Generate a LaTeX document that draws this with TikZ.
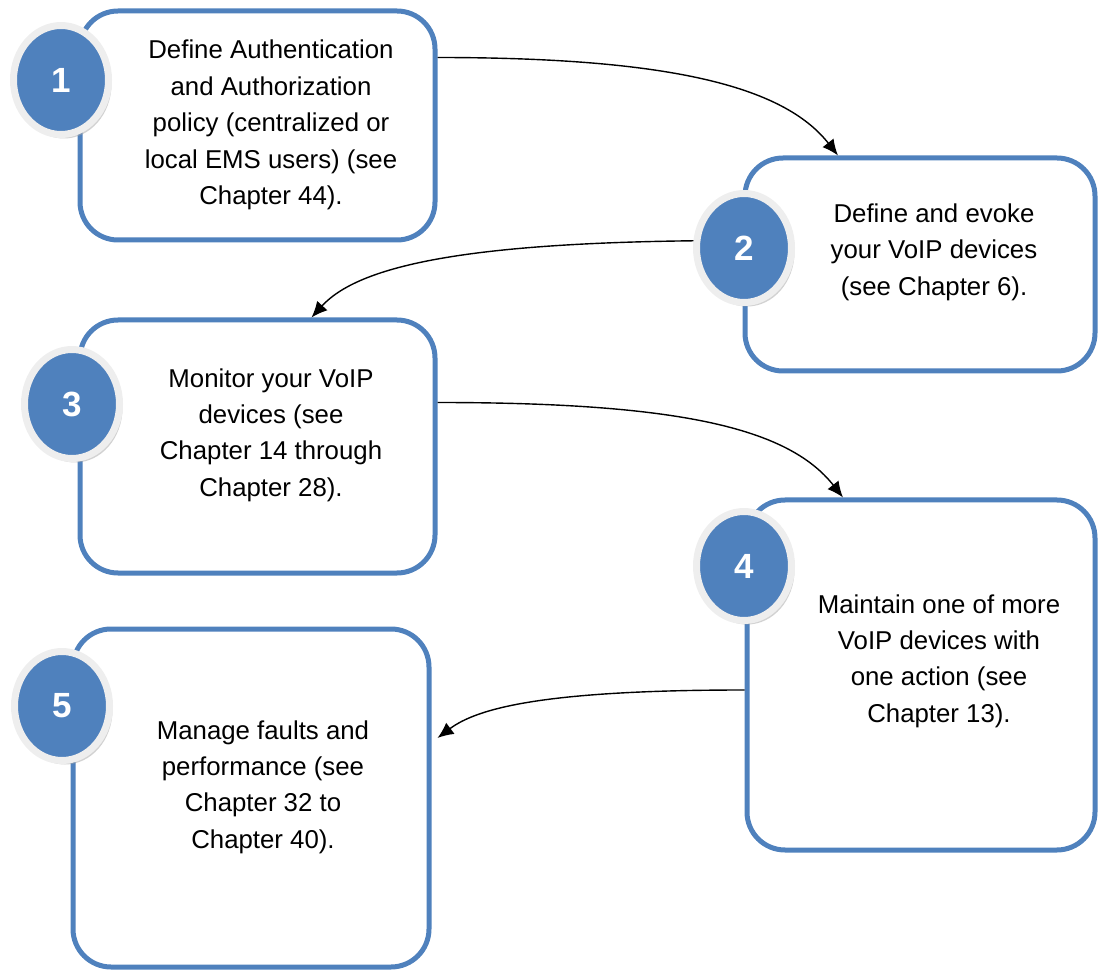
\documentclass[tikz,border=0pt]{standalone}
\usepackage{fontspec}
\setmainfont{Liberation Sans}
\usetikzlibrary{shapes.geometric,shadows,arrows.meta}
\definecolor{stepblue}{RGB}{79,129,189}
\definecolor{ringgray}{RGB}{238,238,238}

\begin{document}
\begin{tikzpicture}[
    x=0.5pt, y=-0.5pt,
    box/.style={rectangle, draw=stepblue, fill=white, line width=2.5pt, rounded corners=19pt, inner sep=0pt},
    badge/.style={ellipse, fill=stepblue, draw=ringgray, line width=3.5pt, minimum width=47.5pt, minimum height=54.5pt, inner sep=0pt, text=white, font=\fontsize{17.5}{17.5}\selectfont\bfseries, drop shadow={shadow xshift=1.5pt, shadow yshift=-2pt, fill=black!35}},
    txt/.style={align=center, font=\fontsize{12.9}{18.2}\selectfont},
    flow/.style={-{Latex[length=8pt,width=7pt]}, line width=0.7pt}
]
\useasboundingbox (0,0) rectangle (1099,973);

% Boxes
\node[box, minimum width=177.5pt, minimum height=114.5pt] (authbox) at (257.5,125.5) {};
\node[box, minimum width=175pt, minimum height=106.5pt] (devbox) at (920,264.5) {};
\node[box, minimum width=177.5pt, minimum height=126.5pt] (monbox) at (257.5,446.5) {};
\node[box, minimum width=174pt, minimum height=175pt] (maintbox) at (921,675) {};
\node[box, minimum width=178pt, minimum height=169pt] (faultbox) at (251,798) {};

% Arrows
\draw[flow] ([yshift=34pt]authbox.east) .. controls +(230,0) and +(-55,-70) .. ([xshift=-41pt]devbox.north);
\draw[flow] ([yshift=12pt]devbox.west) .. controls +(-260,0) and +(50,-55) .. ([xshift=27pt]monbox.north);
\draw[flow] ([yshift=22pt]monbox.east) .. controls +(240,0) and +(-55,-70) .. ([xshift=-39pt]maintbox.north);
\draw[flow] ([yshift=-7.5pt]maintbox.west) .. controls +(-200,0) and +(40,-30) .. ([xshift=3pt,yshift=30pt]faultbox.east);

% Step badges
\node[badge] (num1) at (61,80) {1};
\node[badge] (num2) at (744,248) {2};
\node[badge] (num3) at (72,404) {3};
\node[badge] (num4) at (744,566) {4};
\node[badge] (num5) at (62,706) {5};

% Texts
\node[txt] (authtxt) at (271,125) {Define Authentication\\and Authorization\\policy (centralized or\\local EMS users) (see\\Chapter 44).};
\node[txt] (devtxt) at (934,252) {Define and evoke\\your VoIP devices\\(see Chapter 6).};
\node[txt] (montxt) at (271,435) {Monitor your VoIP\\devices (see\\Chapter 14 through\\Chapter 28).};
\node[txt] (mainttxt) at (939,661) {Maintain one of more\\VoIP devices with\\one action (see\\Chapter 13).};
\node[txt] (faulttxt) at (263,787) {Manage faults and\\performance (see\\Chapter 32 to\\Chapter 40).};

\end{tikzpicture}
\end{document}
